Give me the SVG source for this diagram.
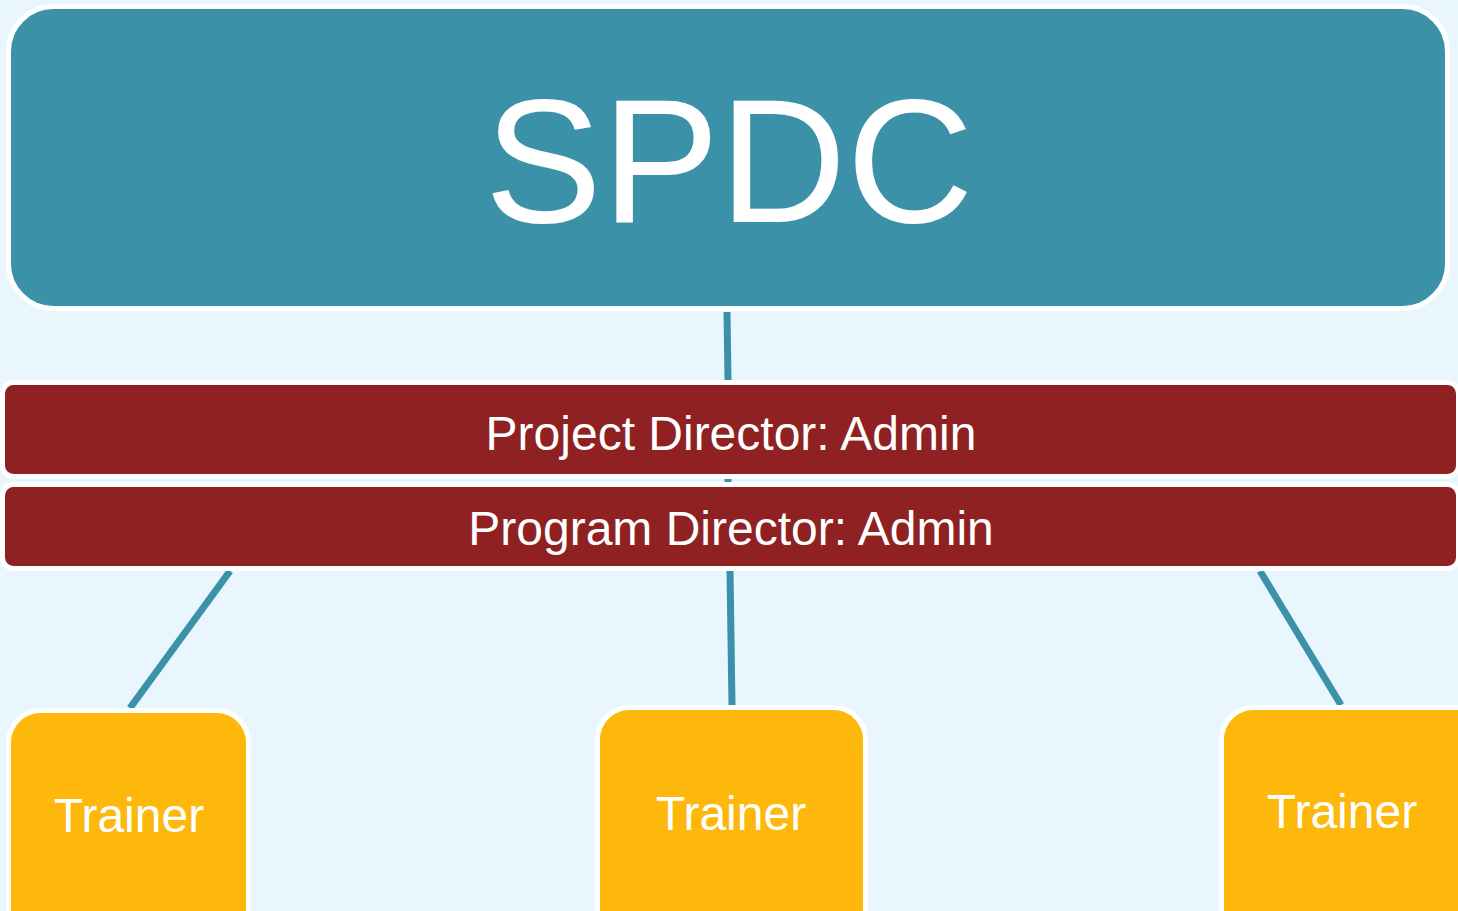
<svg xmlns="http://www.w3.org/2000/svg" width="1458" height="911" viewBox="0 0 1458 911">
  <style>
    .bg { fill: #EAF6FD; }
    .top { fill: #3A91A8; stroke: #FFFFFF; stroke-width: 5; }
    .bar { fill: #8F2122; stroke: #FFFFFF; stroke-width: 5; }
    .trainer { fill: #FDB80B; stroke: #FFFFFF; stroke-width: 5; }
    .conn { stroke: #3A91A8; stroke-width: 7; fill: none; }
    text { font-family: "Liberation Sans", Arial, sans-serif; fill: #FFFFFF; text-anchor: middle; }
    .big { font-size: 176px; }
    .mid { font-size: 48px; }
    .small { font-size: 48px; }
  </style>
  <rect class="bg" x="0" y="0" width="1458" height="911"/>
  <g id="connectors">
    <line class="conn" x1="727" y1="312" x2="728" y2="380"/>
    <line class="conn" x1="728" y1="478" x2="728" y2="483" stroke-width="2"/>
    <line class="conn" x1="230" y1="571" x2="130" y2="708"/>
    <line class="conn" x1="730" y1="571" x2="732" y2="706"/>
    <line class="conn" x1="1260" y1="571" x2="1341" y2="705"/>
  </g>
  <g id="spdc">
    <rect class="top" x="8.5" y="6.5" width="1439" height="302" rx="45" ry="45"/>
    <text class="big" x="729" y="222">SPDC</text>
  </g>
  <g id="project-director">
    <rect class="bar" x="2.5" y="382.5" width="1456" height="94" rx="11" ry="11"/>
    <text class="mid" x="731" y="450">Project Director: Admin</text>
  </g>
  <g id="program-director">
    <rect class="bar" x="2.5" y="484.5" width="1456" height="84" rx="11" ry="11"/>
    <text class="mid" x="731" y="545">Program Director: Admin</text>
  </g>
  <g id="trainer-left">
    <rect class="trainer" x="8.5" y="710.5" width="240" height="240" rx="32" ry="32"/>
    <text class="small" x="129" y="832">Trainer</text>
  </g>
  <g id="trainer-middle">
    <rect class="trainer" x="597.5" y="707.5" width="268" height="240" rx="32" ry="32"/>
    <text class="small" x="731" y="830">Trainer</text>
  </g>
  <g id="trainer-right">
    <rect class="trainer" x="1221.5" y="707.5" width="270" height="240" rx="32" ry="32"/>
    <text class="small" x="1342" y="828">Trainer</text>
  </g>
</svg>
